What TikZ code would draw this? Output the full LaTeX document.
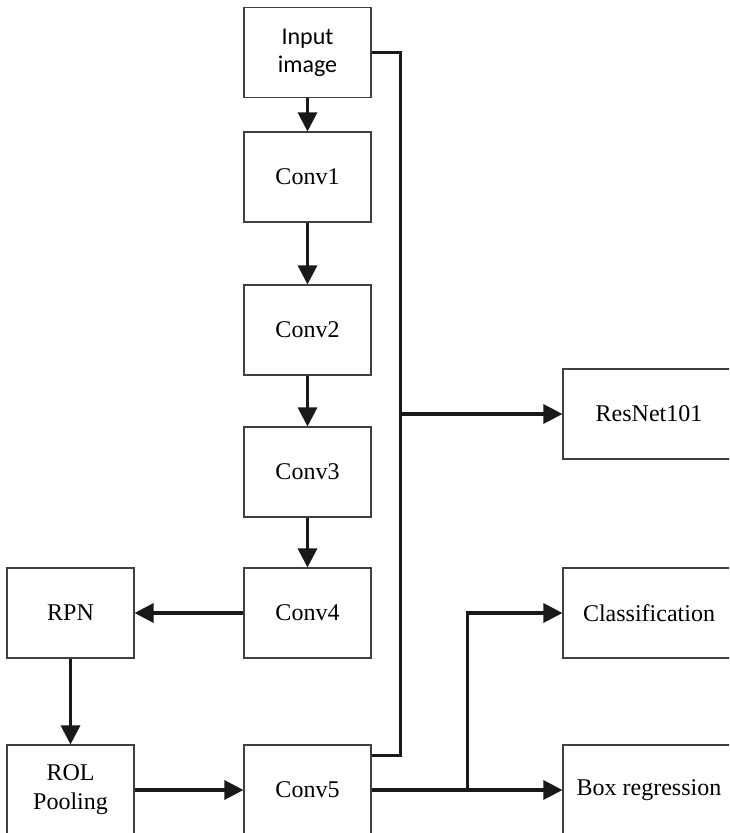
\documentclass[tikz,border=0pt]{standalone}
\usepackage{fontspec}
\setmainfont{Liberation Serif}
\newfontfamily\calibrifont{Carlito}
\usetikzlibrary{arrows.meta}
\begin{document}
\begin{tikzpicture}[x=1pt,y=-1pt,
  box/.style={draw=black!75, line width=1.1pt, rectangle, minimum width=127pt,
    minimum height=90pt, inner sep=0pt, align=center, font=\fontsize{24}{29}\selectfont},
  widebox/.style={box, minimum width=172pt},
  link/.style={line width=3.1pt, draw=black!90, -{Triangle[length=19pt,width=19pt]}},
  bus/.style={line width=3.1pt, draw=black!90}]
\clip (0,0) rectangle (729,833);
\fill[white] (0,0) rectangle (729,833);

\node[box, font=\calibrifont\fontsize{24}{28}\selectfont] (input) at (307.5,52.5) {Input\\image};
\node[box] (conv1) at (307.5,177) {Conv1};
\node[box] (conv2) at (307.5,330) {Conv2};
\node[box] (conv3) at (307.5,472) {Conv3};
\node[box] (conv4) at (307.5,613) {Conv4};
\node[box] (conv5) at (307.5,790) {Conv5};
\node[box] (rpn) at (70.5,613) {RPN};
\node[box] (rol) at (70.5,790) {ROL\\Pooling};
\node[widebox] (resnet) at (649,414) {ResNet101};
\node[widebox] (cls) at (649,613) {Classification};
\node[widebox] (boxreg) at (649,790) {Box regression};

\draw[link] (input) -- (conv1);
\draw[link] (conv1) -- (conv2);
\draw[link] (conv2) -- (conv3);
\draw[link] (conv3) -- (conv4);
\draw[link] (conv4) -- (rpn);
\draw[link] (rpn) -- (rol);
\draw[link] (rol) -- (conv5);

\coordinate (busx) at ([xshift=28.5pt]input.east);
\draw[bus] (input.east) -- (busx) |- ([yshift=-11pt]conv5.north east);
\draw[link] (busx |- resnet.west) -- (resnet.west);

\draw[link] (conv5.east) -- (boxreg.west);
\coordinate (split) at ([xshift=96pt]conv5.east);
\draw[link] (split) |- (cls.west);
\end{tikzpicture}
\end{document}
